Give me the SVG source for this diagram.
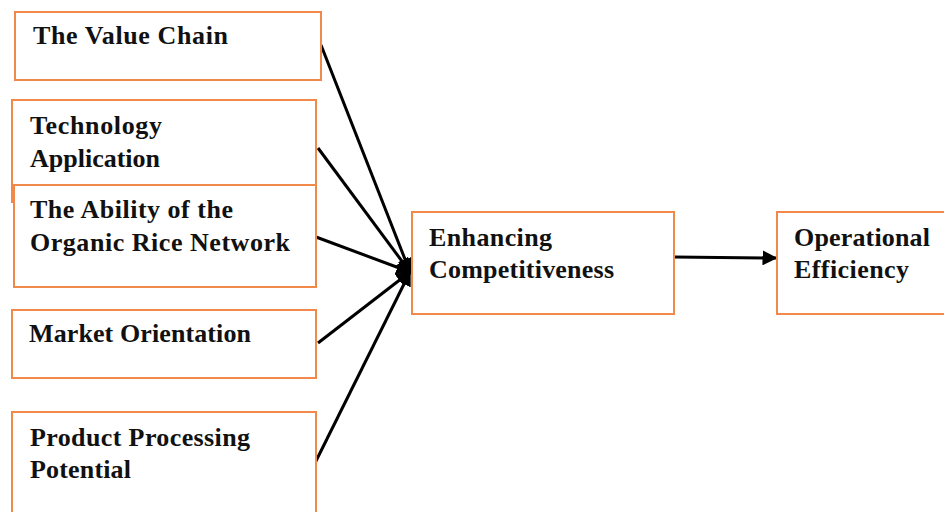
<svg xmlns="http://www.w3.org/2000/svg" width="944" height="512" viewBox="0 0 944 512">
<style>
.box{fill:#fff;stroke:#f0894a;stroke-width:2}
.t{font-family:"Liberation Serif","Times New Roman",serif;font-weight:bold;font-size:26px;fill:#111}
.c{stroke:#000;stroke-width:3;fill:none}
</style>
<defs>
<marker id="ah" markerWidth="5" markerHeight="5" refX="4.5" refY="2.5" orient="auto" markerUnits="strokeWidth">
<path d="M0,0 L5,2.5 L0,5 z" fill="#000"/>
</marker>
</defs>
<rect width="944" height="512" fill="#fff"/>
<g id="connectors">
<line class="c" x1="321" y1="45" x2="410" y2="272" marker-end="url(#ah)"/>
<line class="c" x1="318" y1="148" x2="410" y2="272" marker-end="url(#ah)"/>
<line class="c" x1="316" y1="237" x2="410" y2="272" marker-end="url(#ah)"/>
<line class="c" x1="318" y1="343" x2="410" y2="272" marker-end="url(#ah)"/>
<line class="c" x1="315" y1="463" x2="410" y2="272" marker-end="url(#ah)"/>
<line class="c" x1="674" y1="257" x2="776" y2="258" marker-end="url(#ah)"/>
</g>
<g id="value-chain">
<rect class="box" x="15" y="12" width="306" height="68"/>
<text class="t" x="33" y="44" textLength="195" lengthAdjust="spacing">The Value Chain</text>
</g>
<g id="technology">
<rect class="box" x="12" y="100" width="304" height="85"/>
<line x1="12" y1="185" x2="12" y2="203" stroke="#f0894a" stroke-width="2"/>
<text class="t" x="30" y="134" textLength="132" lengthAdjust="spacing">Technology</text>
<text class="t" x="30" y="167" textLength="130" lengthAdjust="spacing">Application</text>
</g>
<g id="ability">
<rect class="box" x="14" y="185" width="302" height="102"/>
<text class="t" x="30" y="218" textLength="203" lengthAdjust="spacing">The Ability of the</text>
<text class="t" x="30" y="251" textLength="260" lengthAdjust="spacing">Organic Rice Network</text>
</g>
<g id="market">
<rect class="box" x="12" y="310" width="304" height="68"/>
<text class="t" x="29" y="342" textLength="222" lengthAdjust="spacing">Market Orientation</text>
</g>
<g id="product">
<rect class="box" x="12" y="412" width="304" height="110"/>
<text class="t" x="30" y="446" textLength="220" lengthAdjust="spacing">Product Processing</text>
<text class="t" x="30" y="478" textLength="101" lengthAdjust="spacing">Potential</text>
</g>
<g id="enhancing">
<rect class="box" x="412" y="212" width="262" height="102"/>
<text class="t" x="429" y="246" textLength="123" lengthAdjust="spacing">Enhancing</text>
<text class="t" x="429" y="278" textLength="185" lengthAdjust="spacing">Competitiveness</text>
</g>
<g id="operational">
<rect class="box" x="777" y="212" width="180" height="102"/>
<text class="t" x="794" y="246" textLength="136" lengthAdjust="spacing">Operational</text>
<text class="t" x="794" y="278" textLength="115" lengthAdjust="spacing">Efficiency</text>
</g>
</svg>
